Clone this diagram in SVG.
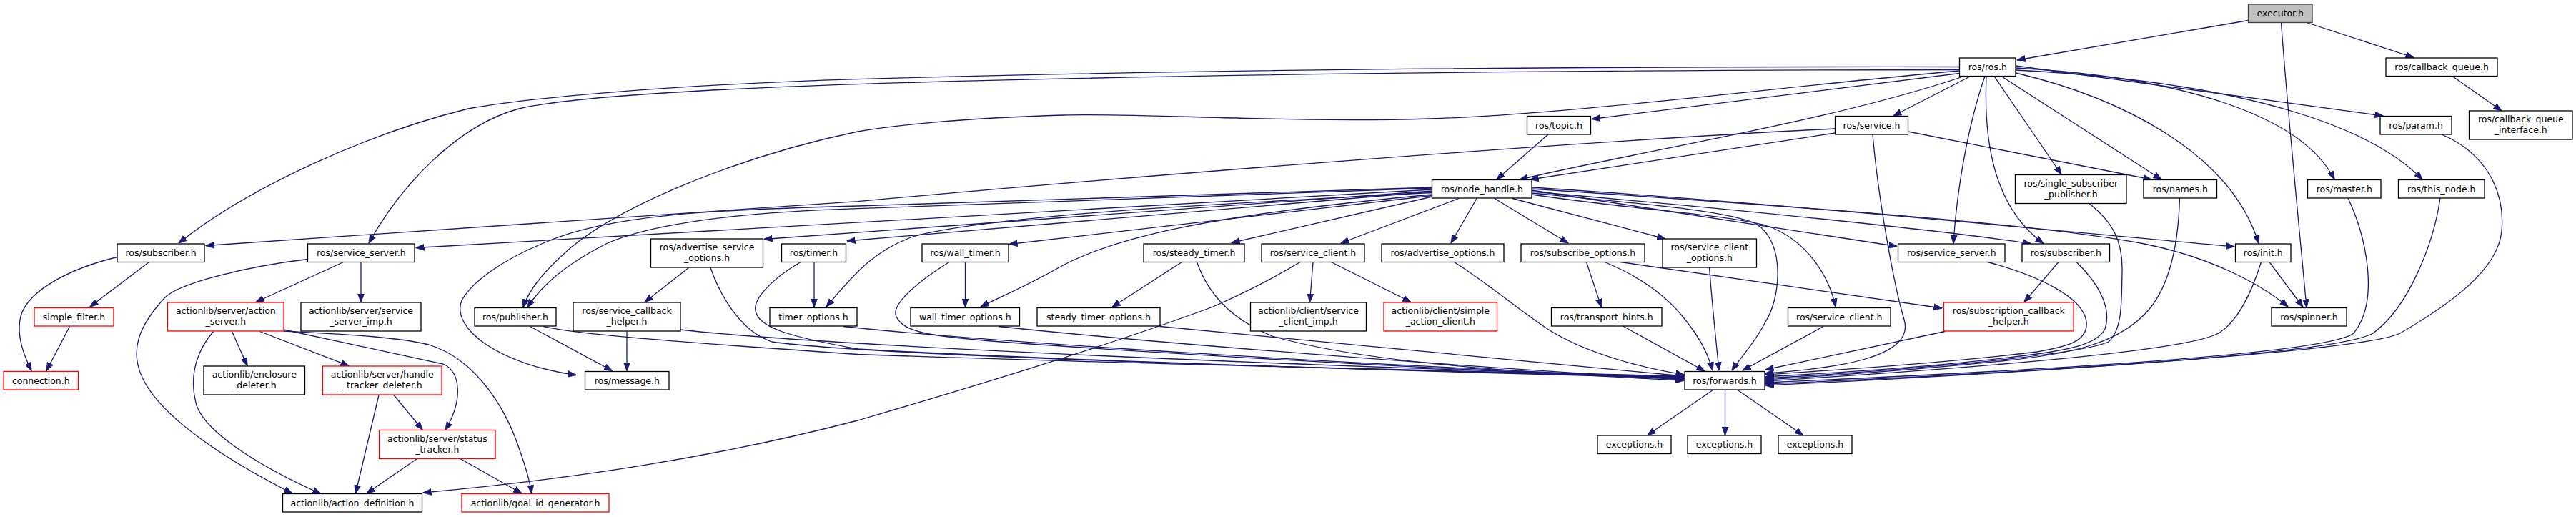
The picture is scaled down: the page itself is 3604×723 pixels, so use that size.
<svg xmlns="http://www.w3.org/2000/svg" width="3604" height="723" viewBox="0 0 3604 723">
<style>
.n rect{fill:#ffffff;stroke:#000000;stroke-width:1.3}
.n.r rect{stroke:#ff0000}
.n.g rect{fill:#bfbfbf;stroke:#404040}
.n text{font-family:"DejaVu Sans","Liberation Sans",sans-serif;font-size:12.5px;fill:#000000;text-anchor:middle}
#edges path{fill:none;stroke:#191970;stroke-width:1.3;marker-end:url(#arr)}
</style>
<defs>
<marker id="arr" markerUnits="userSpaceOnUse" viewBox="0 0 12 10" markerWidth="12" markerHeight="10" refX="11.5" refY="5" orient="auto">
<path d="M0,0.6 L12,5 L0,9.4 z" fill="#191970" stroke="#191970" stroke-width="0.8"/>
</marker>
</defs>
<rect x="0" y="0" width="3604" height="723" fill="#ffffff"/>
<g id="edges">
<path d="M3145.5,28.5 L2822,84"/>
<path d="M3227,31.5 L3377,80.5"/>
<path d="M3191.5,31.5 C3200,150 3215,300 3227,430"/>
<path d="M3431,106.5 L3500,155"/>
<path d="M2741.5,93.5 C2300,93 1700,96 1200,110.6 C900,120 720,140 655,152 C520,185 350,260 250,340"/>
<path d="M2741.5,97.5 C2300,98 1700,102 1200,117.6 C950,126 790,137 726,152 C640,175 560,260 516,340"/>
<path d="M2741.5,102.5 L2227,166.5"/>
<path d="M2748,106.5 C2560,170 2300,210 2126,251"/>
<path d="M2757,106.5 L2649,162"/>
<path d="M2777,106.5 C2755,170 2738,260 2733,340.5"/>
<path d="M2779,106.5 C2775,200 2790,290 2859,340.5"/>
<path d="M2790,106.5 L2884,244"/>
<path d="M2800,106.5 L3024,251"/>
<path d="M2820.5,102 C2960,135 3120,210 3160,340.5"/>
<path d="M2820.5,92 L3334,162"/>
<path d="M2820.5,95 C3050,108 3220,160 3266,251"/>
<path d="M2820.5,98 C3150,115 3320,180 3389,251"/>
<path d="M2741.5,99 C2500,120 2200,160 2000,166 C1800,172 1600,158 1487,161 C1350,165 1250,175 1200,184 C1050,215 880,280 800,345 C760,380 740,405 732,430"/>
<path d="M2166,188 L2094,251"/>
<path d="M2567.5,186 L2141,251"/>
<path d="M2669.5,184 L3010,251"/>
<path d="M2567.5,180 C2200,198 1600,245 1200,281.7 C800,310 500,330 288,343.5"/>
<path d="M2620,188 C2628,280 2650,400 2664,447 C2680,500 2570,515 2470,522"/>
<path d="M2003.5,262 C1600,275 1400,283 1200,288 C1000,293 850,300 760,340 C700,365 660,395 646,420 C630,460 700,510 806,524.5"/>
<path d="M2003.5,263 C1600,278 1400,286 1200,291.7 C1000,298 900,318 850,340 C800,365 760,395 738,430"/>
<path d="M2003.5,265 L582,346.5"/>
<path d="M2003.5,267 L1069,334.5"/>
<path d="M2003.5,268 L1185,337"/>
<path d="M2003.5,269.5 C1700,285 1400,300 1280,330 C1220,350 1190,390 1156,429"/>
<path d="M2003.5,273.5 L1412,341.5"/>
<path d="M2003.5,272 C1700,300 1560,330 1480,375 C1430,403 1400,415 1372,429"/>
<path d="M2003.5,275 L1723,339.5"/>
<path d="M2041,277.5 L1876,340"/>
<path d="M2066,277.5 L2030,340"/>
<path d="M2091,277.5 L2194,340"/>
<path d="M2116,277.5 L2330,334"/>
<path d="M2143,266 L2654,344.5"/>
<path d="M2143,268 C2400,290 2700,320 2841,340.5"/>
<path d="M2143,262 C2500,285 2900,325 3126,345"/>
<path d="M2143,264 C2500,288 2850,312 3000,341 C3090,359 3160,395 3201,429"/>
<path d="M2143,270 C2300,285 2420,295 2457,313 C2500,340 2490,420 2470,450 C2455,480 2435,500 2423,518"/>
<path d="M2143,272 C2300,295 2400,298 2470,315 C2530,335 2560,390 2568,429"/>
<path d="M2034.5,366.5 C2080,395 2120,430 2165,460 C2220,495 2300,515 2356,524"/>
<path d="M2219.5,366.5 L2240.5,429.5"/>
<path d="M2245,366.5 C2290,385 2330,410 2360,450 C2380,475 2390,495 2396,518"/>
<path d="M2267,366.5 L2717,431"/>
<path d="M2391.5,374 C2395,420 2400,470 2405,518"/>
<path d="M2270.5,456 L2385,519"/>
<path d="M2551,456.5 L2438,518"/>
<path d="M2781,366.5 C2850,385 2915,415 2919,450 C2922,478 2890,485 2850,492 C2700,510 2550,518 2470,524"/>
<path d="M2905,366.5 C2935,395 2955,430 2945,460 C2935,480 2900,488 2850,495 C2700,515 2550,522 2470,527"/>
<path d="M2923,284.5 C2955,310 2970,335 2969,380 C2968,420 2970,460 2950,478 C2900,500 2600,522 2470,529"/>
<path d="M3049.5,277 C3048,330 3040,400 3000,440 C2960,480 2900,495 2800,505 C2650,520 2550,526 2470,531"/>
<path d="M3163.5,366.5 C3150,410 3130,450 3104,466 C3060,490 2800,512 2470,533"/>
<path d="M3285,277 C3310,330 3330,420 3293,466 C3250,500 2700,525 2470,535"/>
<path d="M3414,277 C3405,340 3370,430 3320,466 C3260,500 2700,527 2470,537"/>
<path d="M3416,188 C3480,215 3505,270 3500,323 C3495,380 3420,430 3358,466 C3300,495 2700,528 2470,539"/>
<path d="M2721,463.5 L2470,517"/>
<path d="M2880,366.5 L2832,422.5"/>
<path d="M3175,366.5 L3222,429.5"/>
<path d="M2397,545 L2305,608.5"/>
<path d="M2413.5,545 L2413.5,608.5"/>
<path d="M2430.5,545 L2522.5,608.5"/>
<path d="M164,359.5 C100,375 40,405 29,442 C22,470 35,500 44,518.5"/>
<path d="M208.5,366.5 L126,429"/>
<path d="M97.5,456.5 L65,518.5"/>
<path d="M430.5,362.5 C350,372 250,395 230,417 C195,455 180,490 200,530 C230,590 330,650 409,690"/>
<path d="M480.5,366.5 L358,422.5"/>
<path d="M505,366.5 L505,422.5"/>
<path d="M298.5,463.5 C280,485 262,520 275,567 C290,610 380,660 449,690.5"/>
<path d="M324.5,463.5 L346,511.5"/>
<path d="M363.5,463.5 L488,511.5"/>
<path d="M397,461 C480,479 560,496 620,509 C645,520 648,560 623,601.5"/>
<path d="M397,463 C470,467 550,470 600,482 C660,500 700,560 720,610 C735,650 742,675 743.5,690"/>
<path d="M530,552.5 L497.5,690"/>
<path d="M551,552.5 L591,601"/>
<path d="M583.5,641.5 L513,690"/>
<path d="M644,641.5 L730,690"/>
<path d="M1819,366.5 C1780,390 1740,410 1697,429 C1600,465 1450,515 1200,588 C1000,640 800,670 592,689"/>
<path d="M741.5,456.5 L856.5,518.5"/>
<path d="M760.5,456.5 C800,466 900,475 1200,495.5 C1600,510 2100,520 2356,526"/>
<path d="M877,463.5 L877,518.5"/>
<path d="M951.5,461 C1100,478 1600,505 2356,527"/>
<path d="M963.5,374.5 L902,422.5"/>
<path d="M994,374.5 C1010,420 1040,465 1080,478 C1200,495 1700,512 2356,527.5"/>
<path d="M1139,366.5 L1139,429.5"/>
<path d="M1120,366.5 C1080,390 1050,420 1058,438 C1065,458 1100,470 1200,488 C1500,505 2000,520 2356,528.5"/>
<path d="M1180,456.5 C1400,480 1900,510 2356,529"/>
<path d="M1350.5,366.5 L1350.5,429.5"/>
<path d="M1328,366.5 C1290,390 1245,425 1254,443 C1265,465 1300,470 1400,478 C1700,500 2100,520 2356,530"/>
<path d="M1397,456.5 C1600,478 2000,510 2356,531"/>
<path d="M1653.5,366.5 L1556,429.5"/>
<path d="M1674.5,366.5 C1690,410 1720,445 1780,470 C1900,505 2100,520 2356,532"/>
<path d="M1623,456.5 L2356,526"/>
<path d="M1837,366.5 L1832.5,422.5"/>
<path d="M1862.5,366.5 L1974,422.5"/>
</g>
<g id="executor" class="n g"><rect x="3145.5" y="6" width="89.5" height="25.5"/><text x="3190.3" y="23.2">executor.h</text></g>
<g id="ros_ros" class="n"><rect x="2741.5" y="81" width="78.5" height="25.5"/><text x="2780.8" y="98.2">ros/ros.h</text></g>
<g id="callback_queue" class="n"><rect x="3338" y="81" width="156" height="25.5"/><text x="3416" y="98.2">ros/callback_queue.h</text></g>
<g id="callback_queue_interface" class="n"><rect x="3454.5" y="155" width="144.5" height="40"/><text x="3526.8" y="171"><tspan x="3526.8">ros/callback_queue</tspan><tspan x="3526.8" y="186">_interface.h</tspan></text></g>
<g id="topic" class="n"><rect x="2136.5" y="162.5" width="89" height="25.5"/><text x="2181" y="179.7">ros/topic.h</text></g>
<g id="service" class="n"><rect x="2567.5" y="162.5" width="102" height="25.5"/><text x="2618.5" y="179.7">ros/service.h</text></g>
<g id="param" class="n"><rect x="3330" y="162.5" width="100" height="25.5"/><text x="3380" y="179.7">ros/param.h</text></g>
<g id="node_handle" class="n"><rect x="2003.5" y="251.5" width="139.5" height="25.5"/><text x="2073.3" y="268.7">ros/node_handle.h</text></g>
<g id="single_subscriber_publisher" class="n"><rect x="2819.5" y="244.5" width="155.5" height="40"/><text x="2897.3" y="260.5"><tspan x="2897.3">ros/single_subscriber</tspan><tspan x="2897.3" y="275.5">_publisher.h</tspan></text></g>
<g id="names" class="n"><rect x="2999" y="251.5" width="102.5" height="25.5"/><text x="3050.3" y="268.7">ros/names.h</text></g>
<g id="master" class="n"><rect x="3228.5" y="251.5" width="102.5" height="25.5"/><text x="3279.8" y="268.7">ros/master.h</text></g>
<g id="this_node" class="n"><rect x="3355.5" y="251.5" width="120.5" height="25.5"/><text x="3415.8" y="268.7">ros/this_node.h</text></g>
<g id="subscriber_1" class="n"><rect x="164" y="341" width="122" height="25.5"/><text x="225" y="358.2">ros/subscriber.h</text></g>
<g id="service_server_1" class="n"><rect x="430.5" y="341" width="149.5" height="25.5"/><text x="505.3" y="358.2">ros/service_server.h</text></g>
<g id="advertise_service_options" class="n"><rect x="910.5" y="334" width="157" height="40"/><text x="989" y="350"><tspan x="989">ros/advertise_service</tspan><tspan x="989" y="365">_options.h</tspan></text></g>
<g id="timer" class="n"><rect x="1093.5" y="341" width="90" height="25.5"/><text x="1138.5" y="358.2">ros/timer.h</text></g>
<g id="wall_timer" class="n"><rect x="1290" y="341" width="121" height="25.5"/><text x="1350.5" y="358.2">ros/wall_timer.h</text></g>
<g id="steady_timer" class="n"><rect x="1600" y="341" width="141" height="25.5"/><text x="1670.5" y="358.2">ros/steady_timer.h</text></g>
<g id="service_client_1" class="n"><rect x="1765" y="341" width="144" height="25.5"/><text x="1837" y="358.2">ros/service_client.h</text></g>
<g id="advertise_options" class="n"><rect x="1933" y="341" width="171" height="25.5"/><text x="2018.5" y="358.2">ros/advertise_options.h</text></g>
<g id="subscribe_options" class="n"><rect x="2128" y="341" width="173" height="25.5"/><text x="2214.5" y="358.2">ros/subscribe_options.h</text></g>
<g id="service_client_options" class="n"><rect x="2326" y="334" width="131.5" height="40"/><text x="2391.8" y="350"><tspan x="2391.8">ros/service_client</tspan><tspan x="2391.8" y="365">_options.h</tspan></text></g>
<g id="service_server_2" class="n"><rect x="2655.5" y="341" width="149.5" height="25.5"/><text x="2730.3" y="358.2">ros/service_server.h</text></g>
<g id="subscriber_2" class="n"><rect x="2829" y="341" width="122.5" height="25.5"/><text x="2890.3" y="358.2">ros/subscriber.h</text></g>
<g id="init" class="n"><rect x="3127.5" y="341" width="77.5" height="25.5"/><text x="3166.3" y="358.2">ros/init.h</text></g>
<g id="simple_filter" class="n r"><rect x="48" y="430.5" width="111" height="25.5"/><text x="103.5" y="447.7">simple_filter.h</text></g>
<g id="action_server" class="n r"><rect x="234.5" y="423" width="162.5" height="40"/><text x="315.8" y="439"><tspan x="315.8">actionlib/server/action</tspan><tspan x="315.8" y="454">_server.h</tspan></text></g>
<g id="service_server_imp" class="n"><rect x="421" y="423" width="168" height="40"/><text x="505" y="439"><tspan x="505">actionlib/server/service</tspan><tspan x="505" y="454">_server_imp.h</tspan></text></g>
<g id="publisher" class="n"><rect x="664" y="430.5" width="114" height="25.5"/><text x="721" y="447.7">ros/publisher.h</text></g>
<g id="service_callback_helper" class="n"><rect x="802" y="423" width="150" height="40"/><text x="877" y="439"><tspan x="877">ros/service_callback</tspan><tspan x="877" y="454">_helper.h</tspan></text></g>
<g id="timer_options" class="n"><rect x="1077" y="430.5" width="122" height="25.5"/><text x="1138" y="447.7">timer_options.h</text></g>
<g id="wall_timer_options" class="n"><rect x="1274" y="430.5" width="152.5" height="25.5"/><text x="1350.3" y="447.7">wall_timer_options.h</text></g>
<g id="steady_timer_options" class="n"><rect x="1451" y="430.5" width="172" height="25.5"/><text x="1537" y="447.7">steady_timer_options.h</text></g>
<g id="service_client_imp" class="n"><rect x="1749.5" y="423" width="162" height="40"/><text x="1830.5" y="439"><tspan x="1830.5">actionlib/client/service</tspan><tspan x="1830.5" y="454">_client_imp.h</tspan></text></g>
<g id="simple_action_client" class="n r"><rect x="1936" y="423" width="158.5" height="40"/><text x="2015.3" y="439"><tspan x="2015.3">actionlib/client/simple</tspan><tspan x="2015.3" y="454">_action_client.h</tspan></text></g>
<g id="transport_hints" class="n"><rect x="2170.5" y="430.5" width="154.5" height="25.5"/><text x="2247.8" y="447.7">ros/transport_hints.h</text></g>
<g id="service_client_2" class="n"><rect x="2501.5" y="430.5" width="143.5" height="25.5"/><text x="2573.3" y="447.7">ros/service_client.h</text></g>
<g id="subscription_callback_helper" class="n r"><rect x="2719.5" y="423" width="181.5" height="40"/><text x="2810.3" y="439"><tspan x="2810.3">ros/subscription_callback</tspan><tspan x="2810.3" y="454">_helper.h</tspan></text></g>
<g id="spinner" class="n"><rect x="3178" y="430.5" width="105" height="25.5"/><text x="3230.5" y="447.7">ros/spinner.h</text></g>
<g id="connection" class="n r"><rect x="5" y="519.5" width="104.5" height="25.5"/><text x="57.3" y="536.7">connection.h</text></g>
<g id="enclosure_deleter" class="n"><rect x="285" y="512" width="141.5" height="40"/><text x="355.8" y="528"><tspan x="355.8">actionlib/enclosure</tspan><tspan x="355.8" y="543">_deleter.h</tspan></text></g>
<g id="handle_tracker_deleter" class="n r"><rect x="451.5" y="512" width="166.5" height="40"/><text x="534.8" y="528"><tspan x="534.8">actionlib/server/handle</tspan><tspan x="534.8" y="543">_tracker_deleter.h</tspan></text></g>
<g id="message" class="n"><rect x="818.5" y="519.5" width="117.5" height="25.5"/><text x="877.3" y="536.7">ros/message.h</text></g>
<g id="forwards" class="n"><rect x="2357" y="519.5" width="112" height="25.5"/><text x="2413" y="536.7">ros/forwards.h</text></g>
<g id="status_tracker" class="n r"><rect x="530.5" y="601.5" width="162.5" height="40"/><text x="611.8" y="617.5"><tspan x="611.8">actionlib/server/status</tspan><tspan x="611.8" y="632.5">_tracker.h</tspan></text></g>
<g id="exceptions_1" class="n"><rect x="2235" y="609" width="103" height="25.5"/><text x="2286.5" y="626.2">exceptions.h</text></g>
<g id="exceptions_2" class="n"><rect x="2361" y="609" width="103" height="25.5"/><text x="2412.5" y="626.2">exceptions.h</text></g>
<g id="exceptions_3" class="n"><rect x="2488" y="609" width="103" height="25.5"/><text x="2539.5" y="626.2">exceptions.h</text></g>
<g id="action_definition" class="n"><rect x="395.5" y="690.5" width="195" height="25.5"/><text x="493" y="707.7">actionlib/action_definition.h</text></g>
<g id="goal_id_generator" class="n r"><rect x="646" y="690.5" width="206" height="25.5"/><text x="749" y="707.7">actionlib/goal_id_generator.h</text></g>
</svg>
